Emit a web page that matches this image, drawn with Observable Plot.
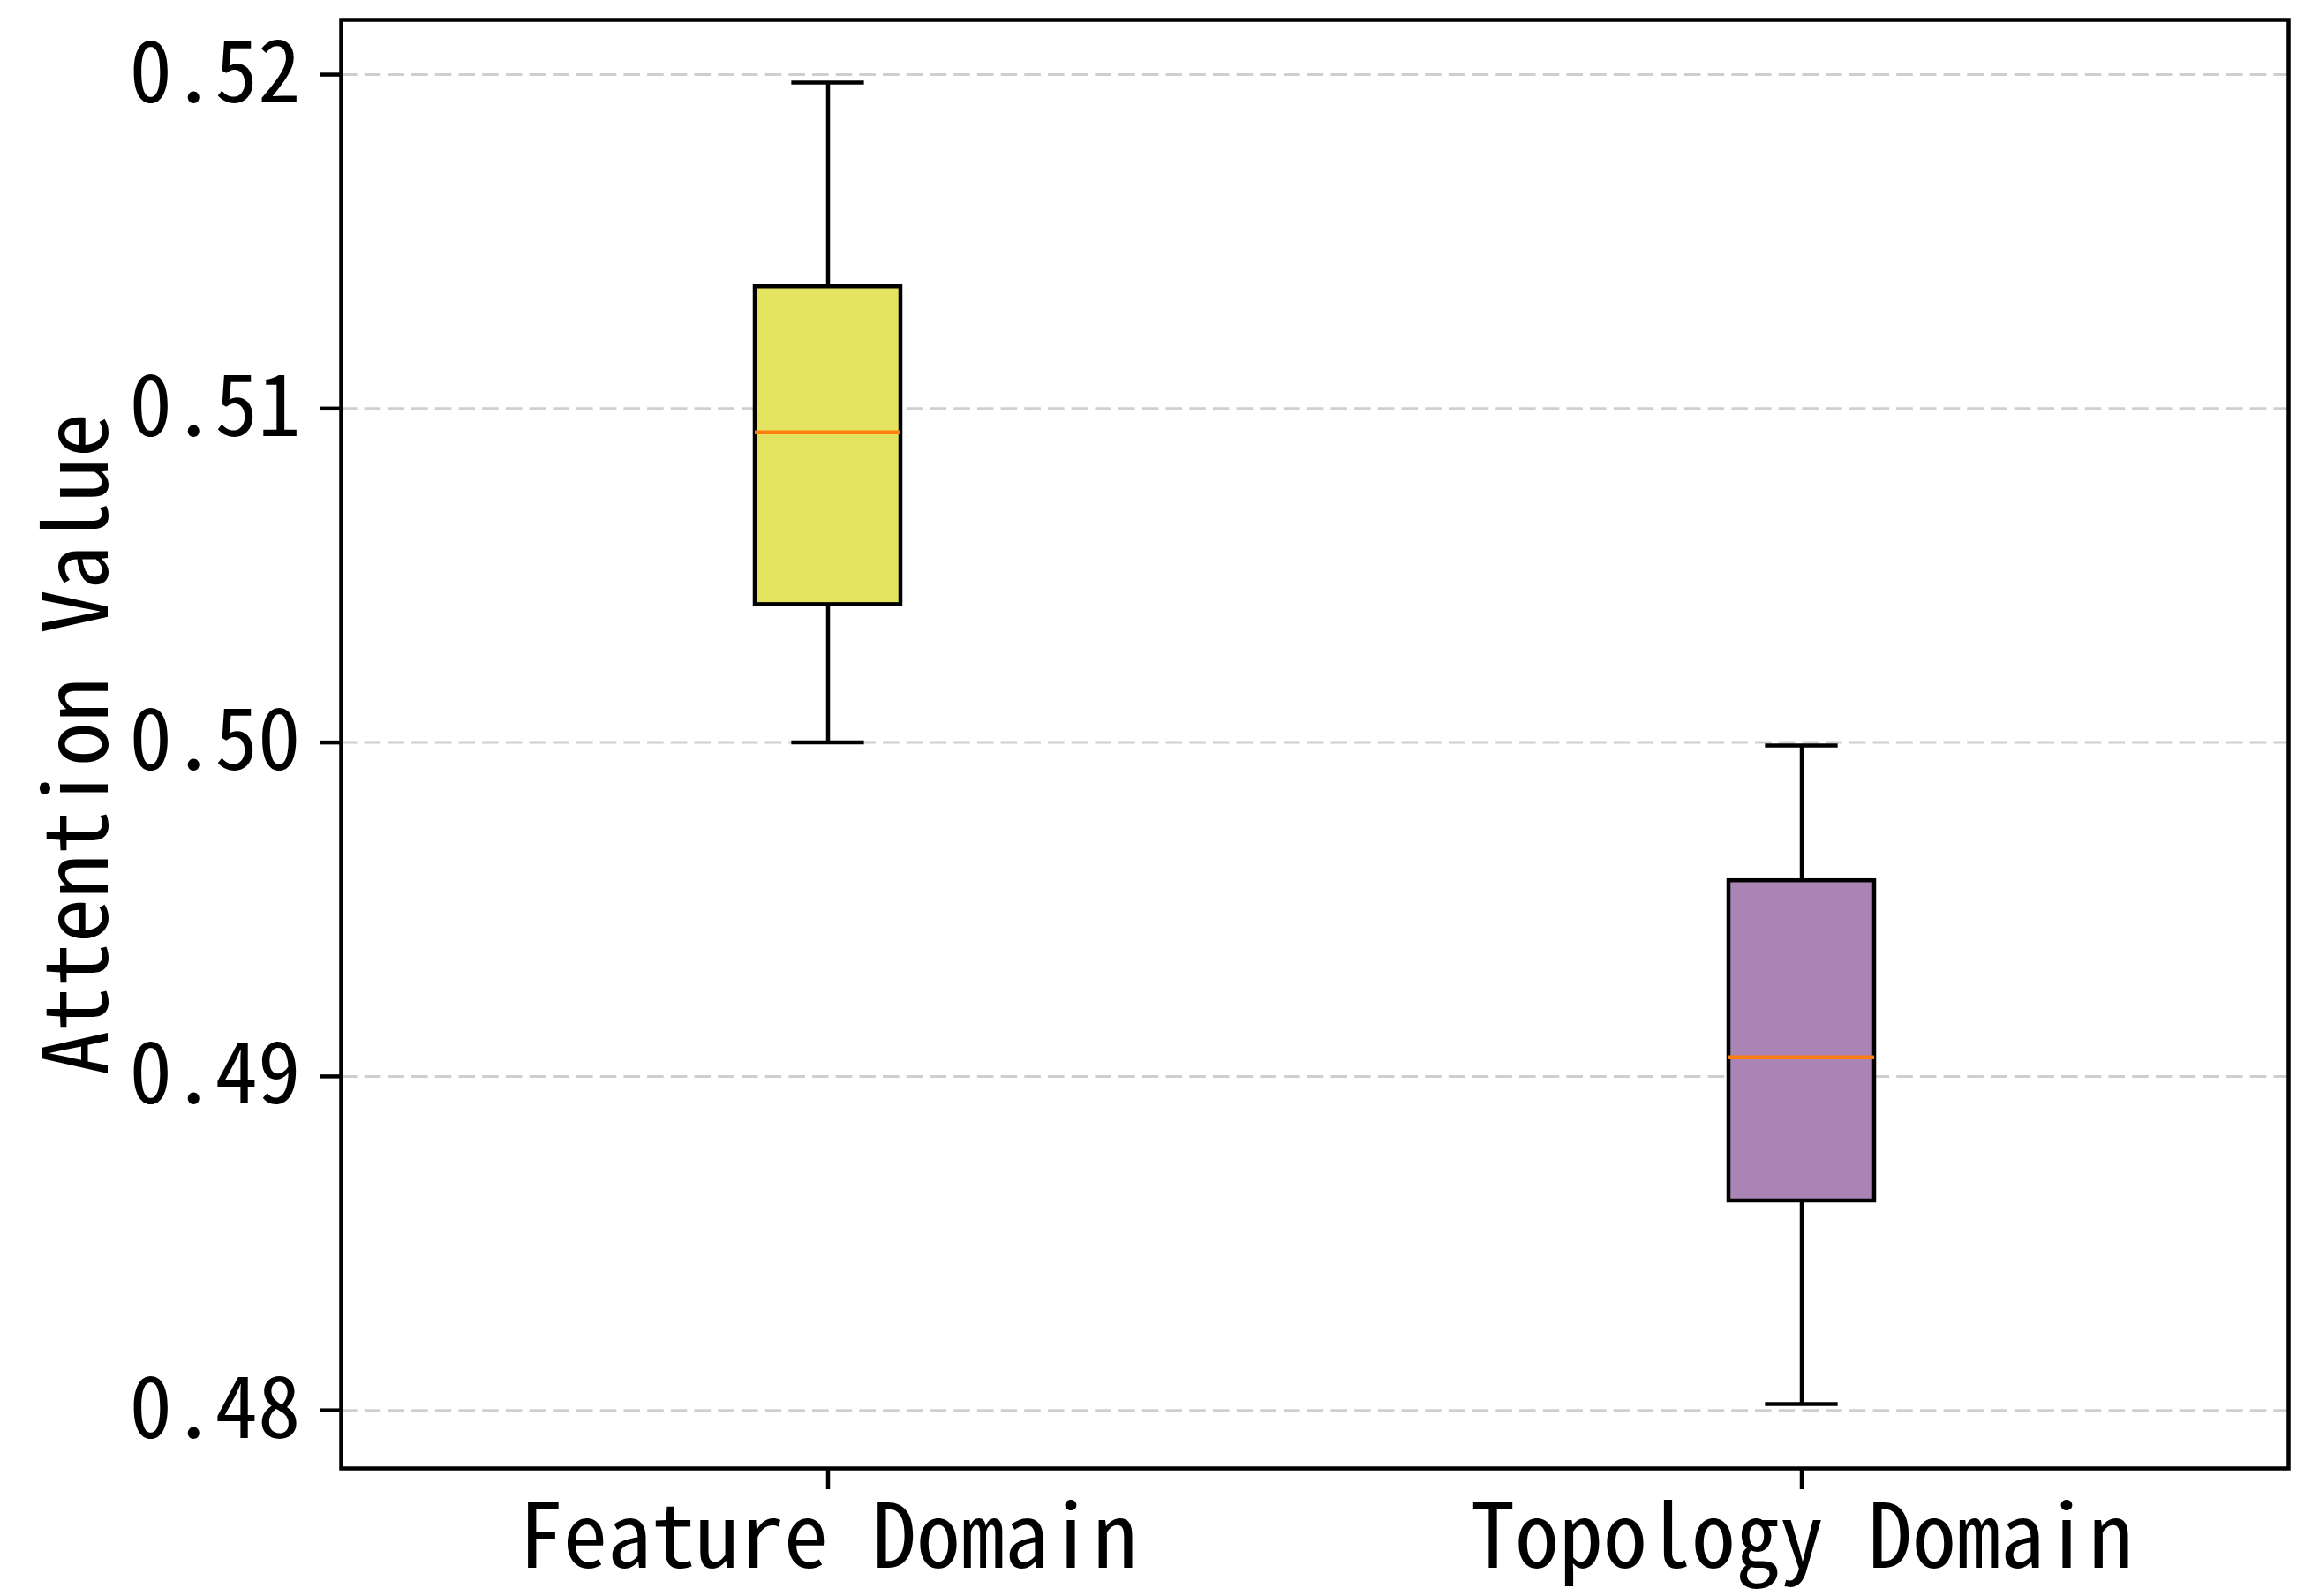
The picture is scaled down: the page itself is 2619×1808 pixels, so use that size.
<!DOCTYPE html>
<html>
<head>
<meta charset="utf-8">
<script src="https://cdn.jsdelivr.net/npm/d3@7"></script>
<script src="https://cdn.jsdelivr.net/npm/@observablehq/plot@0.6"></script>
<style>
  html, body { margin: 0; padding: 0; background: white; }
  #chart { width: 2619px; height: 1808px; }
</style>
</head>
<body>
<div id="chart"></div>
<script>
// ---- data ----
const categories  = ["Feature Domain", "Topology Domain"];
const whiskerLow  = [0.50000, 0.48019];
const q1          = [0.50413, 0.48627];
const median      = [0.50929, 0.49057];
const q3          = [0.51365, 0.49586];
const whiskerHigh = [0.51976, 0.49991];
const yTicks      = [0.48, 0.49, 0.50, 0.51, 0.52];
const yDomain     = [0.47826, 0.52164];
const yLabel      = "Attention Value";

// ---- style / layout ----
const boxColors = ["#e3e35f", "#a984b4"];
const W = 2619, H = 1808;
const mL = 386, mR = 27, mT = 22, mB = 145;
const FONT = "'Noto Sans Mono CJK SC', 'Noto Sans CJK SC', 'DejaVu Sans', sans-serif";
const FS = 100;
const FS_TICK = 97;
const LW = 4.5;

const rows = categories.map((c, i) => ({
  category: c, low: whiskerLow[i], q1: q1[i], median: median[i], q3: q3[i], high: whiskerHigh[i]
}));

// band scale: boxes are 0.15 of a unit wide, centers at positions 1 and 2 in [0.5, 2.5]
const plotW = W - mL - mR;
const boxW = 0.15 * plotW / 2;
const capInset = boxW / 4;

const chart = Plot.plot({
  width: W, height: H,
  marginLeft: mL, marginRight: mR, marginTop: mT, marginBottom: mB,
  style: { fontFamily: FONT, fontSize: FS + "px", background: "white", color: "black" },
  x: { type: "band", domain: categories, paddingInner: 0.85, paddingOuter: 0.425, align: 0.5 },
  y: { domain: yDomain },
  color: { domain: categories, range: boxColors },
  marks: [
    Plot.gridY(yTicks, { stroke: "#cfcfcf", strokeOpacity: 1, strokeWidth: 3, strokeDasharray: "18.6 8.1" }),
    // whiskers
    Plot.ruleX(rows, { x: "category", y1: "low", y2: "q1", stroke: "black", strokeWidth: LW }),
    Plot.ruleX(rows, { x: "category", y1: "q3", y2: "high", stroke: "black", strokeWidth: LW }),
    // caps
    Plot.tickY(rows, { x: "category", y: "low", stroke: "black", strokeWidth: LW, insetLeft: capInset, insetRight: capInset }),
    Plot.tickY(rows, { x: "category", y: "high", stroke: "black", strokeWidth: LW, insetLeft: capInset, insetRight: capInset }),
    // boxes
    Plot.barY(rows, { x: "category", y1: "q1", y2: "q3", fill: "category", stroke: "black", strokeWidth: LW }),
    // medians
    Plot.tickY(rows, { x: "category", y: "median", stroke: "#ff7f0e", strokeWidth: LW }),
    Plot.frame({ stroke: "black", strokeWidth: LW }),
    Plot.axisY(yTicks, {
      tickSize: 24, tickPadding: 22, strokeWidth: LW, fontSize: FS_TICK,
      tickFormat: d3.format(".2f"), label: null
    }),
    Plot.axisX({
      tickSize: 24, tickPadding: 17, strokeWidth: LW, fontSize: FS, label: null
    }),
    Plot.text([yLabel], {
      frameAnchor: "left", textAnchor: "middle", rotate: -90, dx: -297, fontSize: FS, fill: "black", text: d => d
    })
  ]
});

document.getElementById("chart").appendChild(chart);
</script>
</body>
</html>
